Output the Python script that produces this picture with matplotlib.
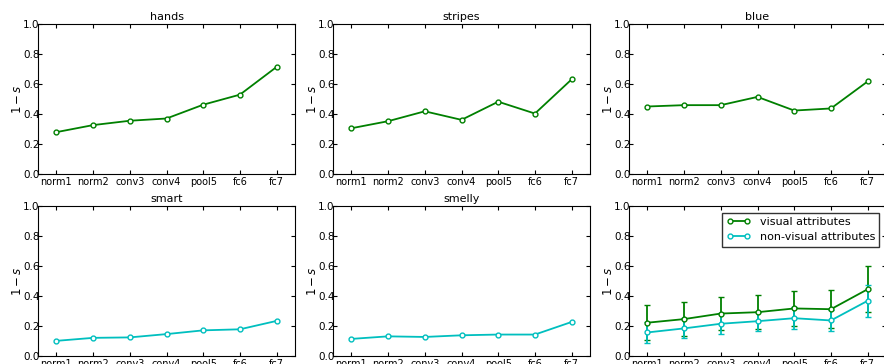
import matplotlib
matplotlib.use('Agg')
from matplotlib import pyplot as plt
from matplotlib.lines import Line2D

capas = ['norm1', 'norm2', 'conv3', 'conv4', 'pool5', 'fc6', 'fc7']

hands = [0.279, 0.326, 0.355, 0.370, 0.462, 0.529, 0.714]
stripes = [0.305, 0.352, 0.418, 0.361, 0.482, 0.403, 0.631]
blue = [0.450, 0.459, 0.459, 0.514, 0.423, 0.437, 0.617]
smart = [0.101, 0.121, 0.124, 0.146, 0.171, 0.178, 0.234]
smelly = [0.114, 0.131, 0.127, 0.138, 0.143, 0.143, 0.227]

visual_media = [0.222, 0.246, 0.283, 0.292, 0.317, 0.312, 0.445]
visual_err = [0.115, 0.112, 0.110, 0.113, 0.114, 0.126, 0.152]
no_visual_media = [0.157, 0.184, 0.215, 0.232, 0.252, 0.237, 0.368]
no_visual_err = [0.071, 0.067, 0.071, 0.064, 0.075, 0.067, 0.107]

VERDE = (0, 0.5, 0)
CIAN = (0, 0.75, 0.75)

plt.rcParams['font.family'] = ['DejaVu Sans']
plt.rcParams['xtick.direction'] = 'in'
plt.rcParams['ytick.direction'] = 'in'
plt.rcParams['xtick.top'] = True
plt.rcParams['ytick.right'] = True

fig = plt.figure(figsize=(8.84, 3.64), dpi=100)

ancho = 257 / 884
alto = 150 / 364
izq = [38 / 884, 333 / 884, 629 / 884]
abajo = [1 - 174 / 364, 1 - 356 / 364]


def prepara(ax, titulo=None):
    ax.set_xlim(-0.5, 6.5)
    ax.set_ylim(0, 1)
    ax.set_xticks(range(len(capas)))
    ax.set_xticklabels(capas)
    ax.set_yticks([0.0, 0.2, 0.4, 0.6, 0.8, 1.0])
    ax.set_yticklabels(['0.0', '0.2', '0.4', '0.6', '0.8', '1.0'])
    ax.tick_params(axis='x', labelsize=7, pad=2, length=3)
    ax.tick_params(axis='y', labelsize=7.5, pad=-1, length=3)
    ax.set_ylabel('$1-s$', fontsize=8.5)
    ax.yaxis.set_label_coords(-0.055, 0.5)
    if titulo:
        ax.set_title(titulo, fontsize=8, pad=3)


def linea(ax, valores, color):
    ax.plot(range(len(valores)), valores, '-o', color=color, lw=1.3,
            ms=3.5, mfc='white', mec=color, mew=1)


paneles = [('hands', hands, VERDE, 0, 0), ('stripes', stripes, VERDE, 1, 0),
           ('blue', blue, VERDE, 2, 0), ('smart', smart, CIAN, 0, 1),
           ('smelly', smelly, CIAN, 1, 1)]

for titulo, valores, color, c, f in paneles:
    ax = fig.add_axes([izq[c], abajo[f], ancho, alto])
    linea(ax, valores, color)
    prepara(ax, titulo)

ax = fig.add_axes([izq[2], abajo[1], ancho, alto])
x = range(len(capas))
ax.errorbar(x, visual_media, yerr=visual_err, fmt='-o', color=VERDE, lw=1.3,
            ms=3.5, mfc='white', mec=VERDE, mew=1, capsize=2, elinewidth=1.3,
            capthick=1.3)
ax.errorbar(x, no_visual_media, yerr=no_visual_err, fmt='-o', color=CIAN, lw=1.3,
            ms=3.5, mfc='white', mec=CIAN, mew=1, capsize=2.5, elinewidth=1.3,
            capthick=1.3)
prepara(ax)
manijas = [Line2D([], [], color=VERDE, lw=1.3, marker='o', ms=3.5, mfc='white',
                  mec=VERDE, mew=1),
           Line2D([], [], color=CIAN, lw=1.3, marker='o', ms=3.5, mfc='white',
                  mec=CIAN, mew=1)]
leg = ax.legend(manijas, ['visual attributes', 'non-visual attributes'],
                loc='upper right', fontsize=8, numpoints=2, fancybox=False,
                borderaxespad=0.6, handlelength=2.2, labelspacing=0.45,
                borderpad=0.4)
leg.get_frame().set_edgecolor('black')
leg.get_frame().set_linewidth(1)

fig.savefig('out.png', dpi=100)
